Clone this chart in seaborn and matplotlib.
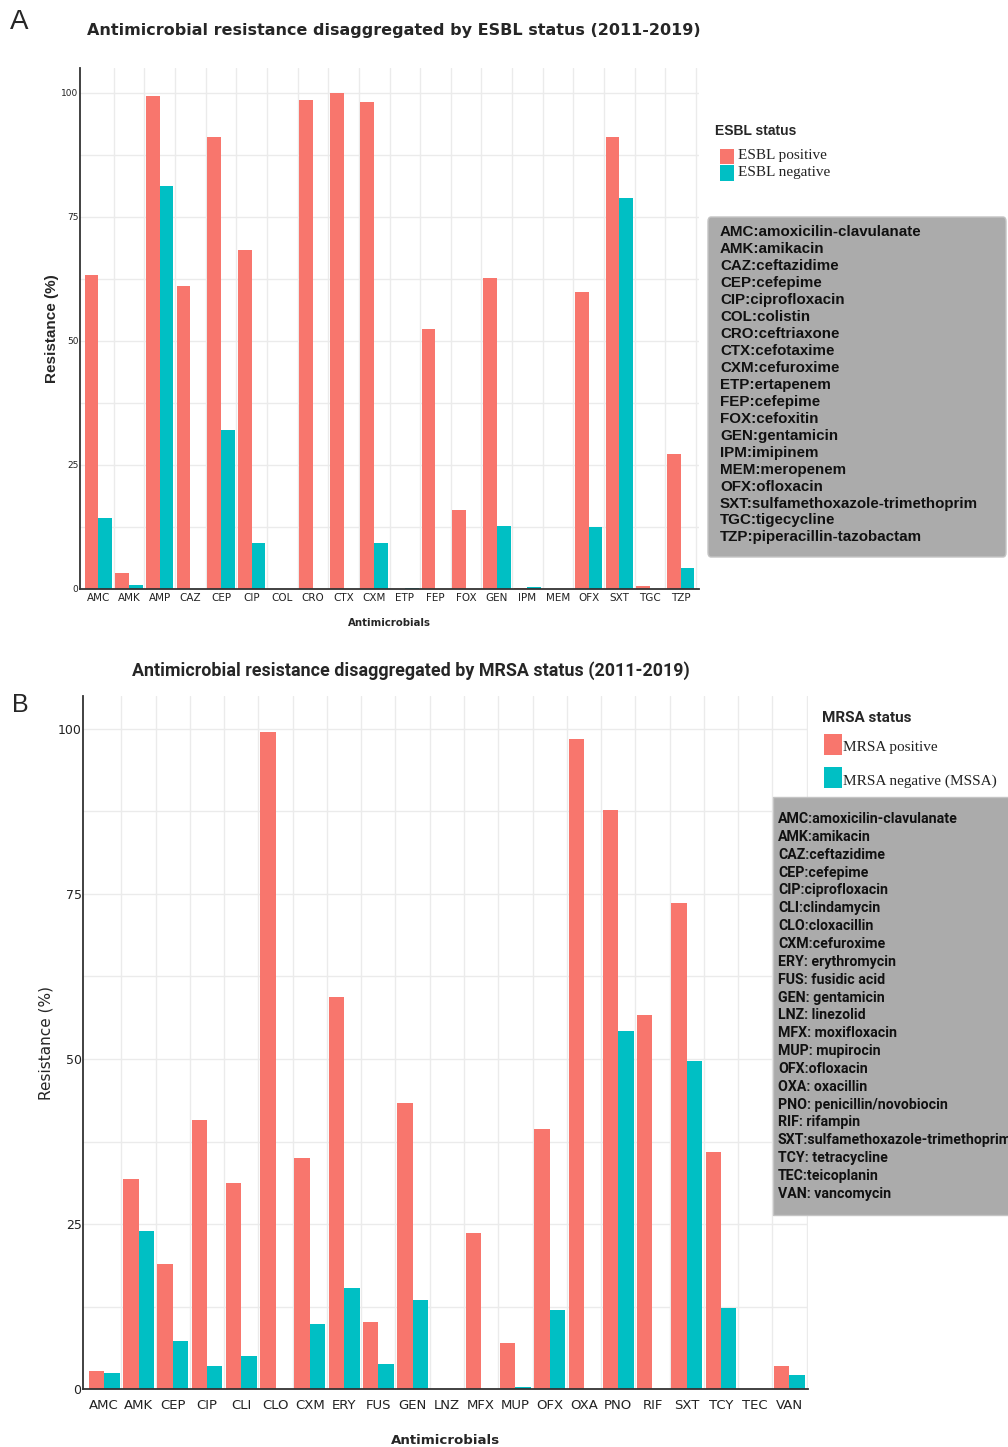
import numpy as np
import pandas as pd
import matplotlib
matplotlib.use("Agg")
import matplotlib.pyplot as plt
from matplotlib.patches import FancyBboxPatch, Rectangle
from matplotlib.ticker import MultipleLocator, FixedLocator
import seaborn as sns

W, H = 1008, 1447

# panel A data
esbl_drugs = ["AMC", "AMK", "AMP", "CAZ", "CEP", "CIP", "COL", "CRO", "CTX", "CXM",
              "ETP", "FEP", "FOX", "GEN", "IPM", "MEM", "OFX", "SXT", "TGC", "TZP"]
esbl_pos = [63.2, 3.2, 99.4, 61.1, 91.0, 68.3, 0, 98.6, 100, 98.2,
            0, 52.3, 15.9, 62.6, 0.3, 0, 59.8, 91.0, 0.6, 27.3]
esbl_neg = [14.4, 0.9, 81.3, 0, 32.0, 9.2, 0, 0, 0, 9.2,
            0.3, 0, 0, 12.7, 0.4, 0, 12.5, 78.9, 0, 4.3]
esbl_status = ["ESBL positive", "ESBL negative"]

# panel B data
mrsa_drugs = ["AMC", "AMK", "CEP", "CIP", "CLI", "CLO", "CXM", "ERY", "FUS", "GEN", "LNZ",
              "MFX", "MUP", "OFX", "OXA", "PNO", "RIF", "SXT", "TCY", "TEC", "VAN"]
mrsa_pos = [2.7, 31.8, 19.0, 40.7, 31.2, 99.6, 35.0, 59.4, 10.1, 43.3, 0,
            23.6, 7.0, 39.4, 98.5, 87.7, 56.7, 73.7, 35.9, 0, 3.5]
mrsa_neg = [2.4, 24.0, 7.3, 3.5, 5.0, 0, 9.9, 15.3, 3.8, 13.5, 0,
            0, 0.3, 11.9, 0, 54.3, 0, 49.7, 12.3, 0, 2.1]
mrsa_status = ["MRSA positive", "MRSA negative (MSSA)"]

esbl_key = ["AMC:amoxicilin-clavulanate", "AMK:amikacin", "CAZ:ceftazidime", "CEP:cefepime",
            "CIP:ciprofloxacin", "COL:colistin", "CRO:ceftriaxone", "CTX:cefotaxime",
            "CXM:cefuroxime", "ETP:ertapenem", "FEP:cefepime", "FOX:cefoxitin",
            "GEN:gentamicin", "IPM:imipinem", "MEM:meropenem", "OFX:ofloxacin",
            "SXT:sulfamethoxazole-trimethoprim", "TGC:tigecycline", "TZP:piperacillin-tazobactam"]
mrsa_key = ["AMC:amoxicilin-clavulanate", "AMK:amikacin", "CAZ:ceftazidime", "CEP:cefepime",
            "CIP:ciprofloxacin", "CLI:clindamycin", "CLO:cloxacillin", "CXM:cefuroxime",
            "ERY: erythromycin", "FUS: fusidic acid", "GEN: gentamicin", "LNZ: linezolid",
            "MFX: moxifloxacin", "MUP: mupirocin", "OFX:ofloxacin", "OXA: oxacillin",
            "PNO: penicillin/novobiocin", "RIF: rifampin", "SXT:sulfamethoxazole-trimethoprim",
            "TCY: tetracycline", "TEC:teicoplanin", "VAN: vancomycin"]

pink = "#F8766D"
teal = "#00BFC4"

sns.set_theme(style="white")
plt.rcParams["font.family"] = ["DejaVu Sans"]

fig = plt.figure(figsize=(W / 100, H / 100), dpi=100)


def fx(x):
    return x / W


def fy(y):
    return 1 - y / H


def draw_panel(ax, drugs, pos, neg, status, xlim, tick_fs, ytick_fs, xpad):
    df = pd.DataFrame({
        "drug": drugs * 2,
        "res": pos + neg,
        "status": [status[0]] * len(drugs) + [status[1]] * len(drugs),
    })
    sns.barplot(data=df, x="drug", y="res", hue="status", order=drugs, hue_order=status,
                palette=[pink, teal], width=0.9, saturation=1, errorbar=None,
                legend=False, linewidth=0, ax=ax)
    n = len(drugs)
    ax.set_xlim(*xlim)
    ax.set_ylim(0, 105)
    ax.yaxis.set_major_locator(FixedLocator([0, 25, 50, 75, 100]))
    ax.yaxis.set_minor_locator(MultipleLocator(12.5))
    ax.xaxis.set_minor_locator(FixedLocator(np.arange(0.5, n, 1.0)))
    ax.grid(False)
    ax.yaxis.grid(True, which="both", color="#ebebeb", lw=1)
    ax.xaxis.grid(True, which="minor", color="#ebebeb", lw=1)
    ax.set_axisbelow(True)
    for s in ["top", "right"]:
        ax.spines[s].set_visible(False)
    for s in ["left", "bottom"]:
        ax.spines[s].set_color("#333333")
        ax.spines[s].set_linewidth(1.3)
    ax.tick_params(which="both", length=0)
    ax.tick_params(axis="x", labelsize=tick_fs, pad=xpad, colors="#222222")
    ax.tick_params(axis="y", labelsize=ytick_fs, pad=1, colors="#222222")


# ---- panel A
axA = fig.add_axes([fx(80), fy(589), fx(699) - fx(80), (589 - 68) / H])
draw_panel(axA, esbl_drugs, esbl_pos, esbl_neg, esbl_status, (-0.6, 19.6), 7.5, 6.5, 3)
axA.set_xlabel("Antimicrobials", fontsize=7.3, fontweight="bold", labelpad=11)
axA.set_ylabel("Resistance (%)", fontsize=11, fontweight="bold",
               family="Liberation Sans", labelpad=2)

fig.text(fx(10), fy(22), "A", fontsize=20, family="Liberation Sans", va="center", ha="left")
fig.text(fx(394), fy(31), "Antimicrobial resistance disaggregated by ESBL status (2011-2019)",
         fontsize=11.5, fontweight="bold", ha="center", va="center")

# legend A
fig.text(fx(715), fy(131), "ESBL status", fontsize=10, fontweight="bold",
         family="Liberation Sans", ha="left", va="center")
for i, (lab, col) in enumerate(zip(esbl_status, [pink, teal])):
    y0 = 149 + i * 16.5
    fig.add_artist(Rectangle((fx(720), fy(y0 + 15)), 14 / W, 15 / H,
                             transform=fig.transFigure, facecolor=col, edgecolor="none"))
    fig.text(fx(738), fy(y0 + 7), lab, fontsize=11, family="Liberation Serif",
             ha="left", va="center", color="#222222")

fig.add_artist(FancyBboxPatch((fx(708), fy(557)), (1006 - 708) / W, (557 - 217) / H,
                              boxstyle="round,pad=0,rounding_size=0.003",
                              transform=fig.transFigure, facecolor="#ababab",
                              edgecolor="#c4c4c4", lw=1))
fig.text(fx(720), fy(225), "\n".join(esbl_key), fontsize=10.9, fontweight="bold",
         family="Liberation Sans", ha="left", va="top", linespacing=1.27, color="#111111")

# ---- panel B
axB = fig.add_axes([fx(83), fy(1389), fx(808) - fx(83), (1389 - 696) / H])
draw_panel(axB, mrsa_drugs, mrsa_pos, mrsa_neg, mrsa_status, (-0.62, 20.54), 9.5, 9, 7)
axB.set_xlabel("Antimicrobials", fontsize=9.6, fontweight="bold", labelpad=16)
axB.set_ylabel("Resistance (%)", fontsize=11, labelpad=3)

fig.text(fx(12), fy(705), "B", fontsize=18, family="Liberation Sans", va="center", ha="left")
fig.text(fx(411), fy(671), "Antimicrobial resistance disaggregated by MRSA status (2011-2019)",
         fontsize=12.9, fontweight="bold", family="Roboto", ha="center", va="center")

# legend B
fig.text(fx(822), fy(718), "MRSA status", fontsize=11, fontweight="bold",
         family="Roboto", ha="left", va="center")
for i, (lab, col) in enumerate(zip(mrsa_status, [pink, teal])):
    y0 = 734 + i * 33
    fig.add_artist(Rectangle((fx(824), fy(y0 + 21)), 18 / W, 21 / H,
                             transform=fig.transFigure, facecolor=col, edgecolor="none"))
    fig.text(fx(843), fy(y0 + 14), lab, fontsize=11, family="Liberation Serif",
             ha="left", va="center", color="#222222")

fig.add_artist(FancyBboxPatch((fx(773), fy(1215)), (1020 - 773) / W, (1215 - 797) / H,
                              boxstyle="square,pad=0", transform=fig.transFigure,
                              facecolor="#ababab", edgecolor="#c4c4c4", lw=1))
fig.text(fx(778), fy(812), "\n".join(mrsa_key), fontsize=10.2, fontweight="bold",
         family="Roboto", ha="left", va="top", linespacing=1.35, color="#111111")

fig.savefig("out.png", dpi=100)
